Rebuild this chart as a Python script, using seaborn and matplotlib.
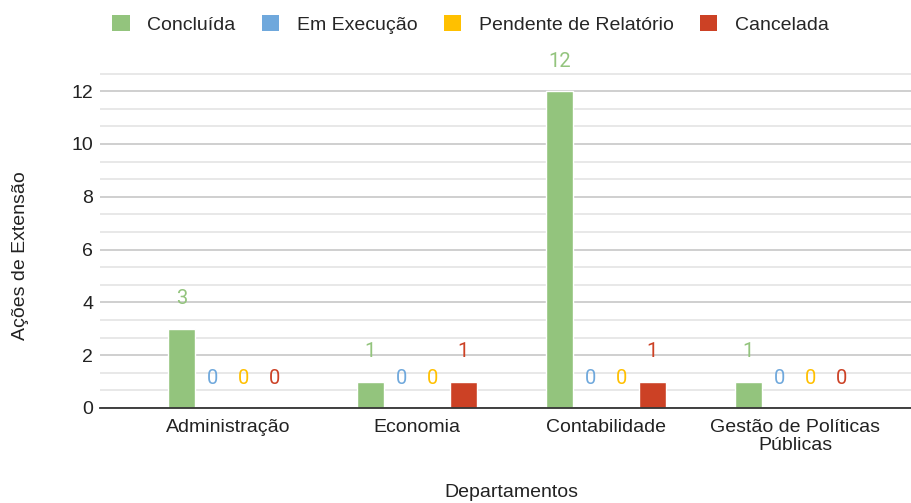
"""Ações de extensão por departamento e situação."""
import matplotlib
matplotlib.use("Agg")
import matplotlib.pyplot as plt
import numpy as np
import pandas as pd
import seaborn as sns
from matplotlib.patches import Patch
from matplotlib.ticker import MultipleLocator

departamentos = ["Administração", "Economia", "Contabilidade", "Gestão de Políticas\nPúblicas"]
situacoes = ["Concluída", "Em Execução", "Pendente de Relatório", "Cancelada"]
concluida = [3, 1, 12, 1]
em_execucao = [0, 0, 0, 0]
pendente = [0, 0, 0, 0]
cancelada = [0, 1, 1, 0]

cores = ["#93C47D", "#6FA8DC", "#FFC000", "#CC4125"]

df = pd.DataFrame({
    "Departamentos": departamentos * 4,
    "Situação": np.repeat(situacoes, 4),
    "Ações": concluida + em_execucao + pendente + cancelada,
})

sns.set_theme(style="white")
plt.rcParams["font.family"] = ["Liberation Sans", "DejaVu Sans"]

fig = plt.figure(figsize=(9.12, 5.03), dpi=100)
ax = fig.add_axes([0.1096, 0.1889, 0.8904, 0.6651])

sns.barplot(
    data=df, x="Departamentos", y="Ações", hue="Situação",
    order=departamentos, hue_order=situacoes, palette=cores,
    width=0.656, gap=0.13, ax=ax, legend=False, saturation=1,
)

# data labels above every bar (zeros included)
for cont, cor in zip(ax.containers, cores):
    for bar in cont:
        h = bar.get_height()
        ax.annotate(
            f"{h:.0f}", xy=(bar.get_x() + bar.get_width() / 2, h),
            xytext=(0, 21.5), textcoords="offset points",
            ha="center", va="center", color=cor, fontsize=14.5,
            family="Roboto",
        )

ax.set_xlim(-0.677, 3.619)
ax.set_ylim(0, 12.67)
ax.yaxis.set_major_locator(MultipleLocator(2))
ax.yaxis.set_minor_locator(MultipleLocator(2 / 3))
ax.grid(which="major", axis="y", color="#cccccc", linewidth=1.3)
ax.grid(which="minor", axis="y", color="#e6e6e6", linewidth=1.3)
ax.set_axisbelow(True)
for s in ("top", "right", "left"):
    ax.spines[s].set_visible(False)
ax.spines["bottom"].set_color("#333333")
ax.spines["bottom"].set_linewidth(1.3)
ax.tick_params(axis="both", which="both", length=0, labelsize=14,
               colors="#222222", pad=5)
ax.tick_params(axis="x", pad=8)
for lbl in ax.get_xticklabels():
    lbl.set_linespacing(1.1)

ax.set_xlabel("Departamentos", fontsize=14, color="#222222")
ax.set_ylabel("Ações de Extensão", fontsize=14, color="#222222")
ax.xaxis.set_label_coords(0.507, -0.228)
ax.yaxis.set_label_coords(-0.098, 0.454)
ax.yaxis.label.set_va("center")

handles = [Patch(facecolor=c, edgecolor="none", label=s) for c, s in zip(cores, situacoes)]
fig.legend(
    handles=handles, loc="center", bbox_to_anchor=(0.516, 0.952), ncol=4,
    frameon=False, fontsize=14, handlelength=0.9, handleheight=0.9,
    handletextpad=0.9, columnspacing=1.35,
)

fig.savefig("out.png", dpi=100)
